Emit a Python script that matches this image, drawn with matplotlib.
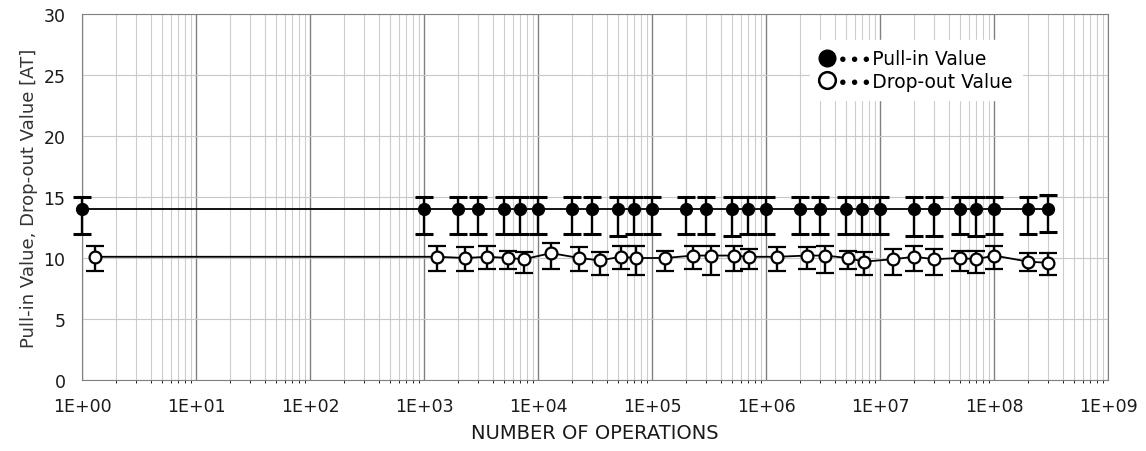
import matplotlib
matplotlib.use("Agg")
import matplotlib.pyplot as plt
from matplotlib.lines import Line2D
from matplotlib.ticker import LogLocator, FixedLocator, FuncFormatter
import numpy as np

plt.rcParams['font.family'] = ['DejaVu Sans']

# pull-in values (filled circles)
pull_x = [1, 1e3, 2e3, 3e3, 5e3, 7e3, 1e4, 2e4, 3e4, 5e4, 7e4, 1e5, 2e5, 3e5, 5e5, 7e5,
          1e6, 2e6, 3e6, 5e6, 7e6, 1e7, 2e7, 3e7, 5e7, 7e7, 1e8, 2e8, 3e8]
pull_y = [14.0] * 29
pull_hi = [15.0, 15.0, 15.0, 15.0, 15.0, 15.0, 15.0, 15.0, 15.0, 15.0, 15.0, 15.0, 15.0, 15.0, 15.0, 15.0,
           15.0, 15.0, 15.0, 15.0, 15.0, 15.0, 15.0, 15.0, 15.0, 15.0, 15.0, 15.0, 15.2]
pull_lo = [12.0, 12.0, 12.0, 12.0, 12.0, 12.0, 12.0, 12.0, 12.0, 11.8, 12.0, 12.0, 12.0, 12.0, 11.8, 12.0,
           12.0, 12.0, 12.0, 12.0, 12.0, 12.0, 11.8, 11.8, 12.0, 11.8, 12.0, 12.0, 12.1]

# drop-out values (open circles)
drop_x = [1.3, 1.3e3, 2.3e3, 3.6e3, 5.5e3, 7.5e3, 1.3e4, 2.3e4, 3.5e4, 5.3e4, 7.3e4, 1.3e5, 2.3e5,
          3.3e5, 5.2e5, 7.1e5, 1.25e6, 2.3e6, 3.3e6, 5.2e6, 7.2e6, 1.3e7, 2e7, 3e7, 5e7, 7e7, 1e8, 2e8, 3e8]
drop_y = [10.1, 10.1, 10.0, 10.1, 10.0, 9.9, 10.4, 10.0, 9.8, 10.1, 10.0, 10.0, 10.2, 10.2, 10.2, 10.1,
          10.1, 10.2, 10.2, 10.0, 9.7, 9.9, 10.1, 9.9, 10.0, 9.9, 10.2, 9.7, 9.6]
drop_hi = [11.0, 11.0, 10.9, 11.0, 10.6, 10.5, 11.2, 10.9, 10.5, 11.0, 11.0, 10.6, 11.0, 11.0, 11.0, 10.7,
           10.9, 10.9, 11.0, 10.6, 10.5, 10.7, 11.0, 10.7, 10.6, 10.6, 11.0, 10.4, 10.4]
drop_lo = [8.9, 8.9, 8.9, 9.1, 9.1, 8.8, 9.1, 8.9, 8.6, 9.1, 8.6, 8.9, 9.1, 8.6, 8.9, 9.1,
           8.9, 9.1, 8.8, 9.1, 8.6, 8.6, 8.9, 8.6, 8.9, 8.8, 9.1, 8.9, 8.6]

x_labels = ['1E+00', '1E+01', '1E+02', '1E+03', '1E+04', '1E+05', '1E+06', '1E+07', '1E+08', '1E+09']

fig = plt.figure(figsize=(11.46, 4.52), dpi=100)
ax = fig.add_axes([0.0716, 0.157, 0.8953, 0.81])

ax.set_xscale('log')
ax.set_xlim(1, 1e9)
ax.set_ylim(0, 30)

ax.xaxis.set_major_locator(FixedLocator([10.0 ** i for i in range(10)]))
ax.xaxis.set_major_formatter(FuncFormatter(lambda v, p: x_labels[int(round(np.log10(v)))]))
ax.xaxis.set_minor_locator(LogLocator(base=10, subs=np.arange(2, 10), numticks=100))
ax.xaxis.set_minor_formatter(FuncFormatter(lambda v, p: ''))
ax.set_yticks(np.arange(0, 31, 5))

ax.grid(True, which='major', axis='x', color='#808080', lw=1.0)
ax.grid(True, which='minor', axis='x', color='#cccccc', lw=0.8)
ax.grid(True, which='major', axis='y', color='#c8c8c8', lw=0.8)
ax.set_axisbelow(True)
for s in ax.spines.values():
    s.set_color('#808080')
ax.tick_params(length=0, labelsize=12.5, colors='#1a1a1a')
ax.tick_params(axis='x', pad=12)
ax.tick_params(axis='y', pad=12)

perr = [np.array(pull_y) - np.array(pull_lo), np.array(pull_hi) - np.array(pull_y)]
derr = [np.array(drop_y) - np.array(drop_lo), np.array(drop_hi) - np.array(drop_y)]

ax.errorbar(pull_x, pull_y, yerr=perr, color='black', lw=1.3, marker='o', ms=8.5,
            mfc='black', mec='black', ecolor='black', elinewidth=1.7, capsize=6.5, capthick=2.2,
            clip_on=False, zorder=3)
ax.errorbar(drop_x, drop_y, yerr=derr, color='black', lw=1.3, marker='o', ms=8.5,
            mfc='white', mec='black', mew=1.6, ecolor='black', elinewidth=1.7, capsize=6.5,
            capthick=2.2, clip_on=False, zorder=3)

ax.set_xlabel('NUMBER OF OPERATIONS', fontsize=14, color='#1a1a1a', labelpad=6)
ax.set_ylabel('Pull-in Value, Drop-out Value [AT]', fontsize=13, color='#333333', labelpad=4)

handles = [Line2D([], [], ls='none', marker='o', ms=12, mfc='black', mec='black'),
           Line2D([], [], ls='none', marker='o', ms=12, mfc='white', mec='black', mew=1.8)]
leg = ax.legend(handles, ['\u2219\u2219\u2219Pull-in Value', '\u2219\u2219\u2219Drop-out Value'],
                loc='upper left', bbox_to_anchor=(0.70, 0.955), frameon=True, fancybox=False,
                fontsize=13.5, handlelength=0.8, handletextpad=0.15, labelspacing=0.2, borderpad=0.5)
leg.get_frame().set_edgecolor('white')
leg.get_frame().set_facecolor('white')
leg.get_frame().set_alpha(1)

fig.savefig('out.png', dpi=100)
